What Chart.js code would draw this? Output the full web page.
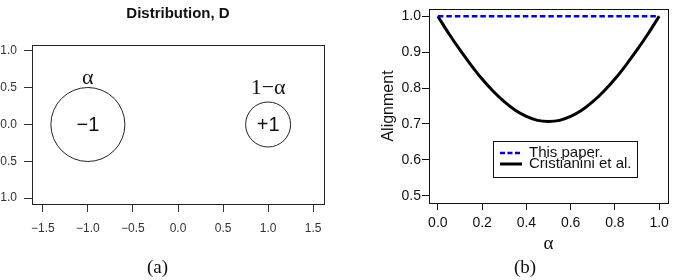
<!DOCTYPE html>
<html>
<head>
<meta charset="utf-8">
<script src="https://cdn.jsdelivr.net/npm/chart.js@4.4.1/dist/chart.umd.min.js"></script>
<style>
  html, body { margin: 0; padding: 0; background: #fff; }
  #wrap { position: relative; width: 674px; height: 280px; overflow: hidden; }
  canvas { position: absolute; top: 0; }
  #chartA { left: 0; }
  #chartB { left: 340px; }
</style>
</head>
<body>
<div id="wrap">
  <canvas id="chartA" width="340" height="280"></canvas>
  <canvas id="chartB" width="334" height="280"></canvas>
</div>
<script>
// Panel (a): the two classes of distribution D
const classX = [-1, 1];
const classY = [0, 0];
const classNames = ['−1', '+1'];
const classWeights = ['α', '1−α'];
const distXTicks = [-1.5, -1.0, -0.5, 0.0, 0.5, 1.0, 1.5];
const distYTicks = [-1.0, -0.5, 0.0, 0.5, 1.0];

// Panel (b): alignment against alpha
const alphaValues = [0, 0.05, 0.1, 0.15, 0.2, 0.25, 0.3, 0.35, 0.4, 0.45, 0.5,
                     0.55, 0.6, 0.65, 0.7, 0.75, 0.8, 0.85, 0.9, 0.95, 1];
const thisPaper = [1, 1, 1, 1, 1, 1, 1, 1, 1, 1, 1,
                   1, 1, 1, 1, 1, 1, 1, 1, 1, 1];
const cristianini = [1.000, 0.951, 0.906, 0.864, 0.825, 0.791, 0.762, 0.738, 0.721, 0.710, 0.707,
                     0.710, 0.721, 0.738, 0.762, 0.791, 0.825, 0.864, 0.906, 0.951, 1.000];
const alignXTicks = [0, 0.2, 0.4, 0.6, 0.8, 1.0];
const alignYTicks = [0.5, 0.6, 0.7, 0.8, 0.9, 1.0];

const SANS = '"Liberation Sans", Arial, sans-serif';
const SERIF = '"Liberation Serif", "Times New Roman", serif';

function fmt(v) {
    return v.toFixed(1).replace('-', '−');
}

// R-like axis: ticks outside, no grid inside, fixed size
function rAxis(ticks, min, max, fontSize, tickLen, pad, color, size) {
    return {
        type: 'linear',
        min: min,
        max: max,
        afterBuildTicks: scale => { scale.ticks = ticks.map(v => ({ value: v })); },
        afterFit: scale => {
            if (scale.isHorizontal()) scale.height = size;
            else scale.width = size;
            // no extra room for overhanging labels
            scale.paddingLeft = 0;
            scale.paddingRight = 0;
            scale.paddingTop = 0;
            scale.paddingBottom = 0;
        },
        ticks: {
            callback: v => fmt(v),
            font: { family: SANS, size: fontSize },
            color: color,
            padding: pad,
            autoSkip: false,
            maxRotation: 0,
            minRotation: 0
        },
        grid: {
            display: true,
            drawOnChartArea: false,
            drawTicks: true,
            tickLength: tickLen,
            tickColor: color,
            color: color
        },
        border: { display: true, color: color, width: 1 }
    };
}

// Frame and texts for panel (a)
const distLabels = {
    id: 'distLabels',
    afterDraw(chart) {
        const { ctx, chartArea: a, scales: { x, y } } = chart;
        ctx.save();
        ctx.strokeStyle = '#222';
        ctx.lineWidth = 1;
        ctx.strokeRect(a.left + 0.5, a.top + 0.5, a.right - a.left, a.bottom - a.top);
        ctx.fillStyle = '#111';
        ctx.textAlign = 'center';
        ctx.textBaseline = 'middle';
        ctx.font = 'bold 15px ' + SANS;
        ctx.fillText('Distribution, D', (a.left + a.right) / 2, 14);
        // class labels inside the circles
        ctx.font = '20px ' + SANS;
        classNames.forEach((name, i) => {
            ctx.fillText(name, x.getPixelForValue(classX[i]), y.getPixelForValue(classY[i]) + 1);
        });
        // class weights above the circles
        const weightY = [0.63, 0.49];
        ctx.font = '22px ' + SERIF;
        classWeights.forEach((w, i) => {
            ctx.fillText(w, x.getPixelForValue(classX[i]), y.getPixelForValue(weightY[i]));
        });
        ctx.font = '19px ' + SERIF;
        ctx.fillText('(a)', 157.5, 268);
        ctx.restore();
    }
};

// Frame, legend and caption for panel (b)
const alignExtras = {
    id: 'alignExtras',
    afterDraw(chart) {
        const { ctx, chartArea: a } = chart;
        ctx.save();
        ctx.strokeStyle = '#111';
        ctx.lineWidth = 1;
        ctx.strokeRect(a.left + 0.5, a.top + 0.5, a.right - a.left, a.bottom - a.top);

        // legend box
        const lx = 153, ly = 141, lw = 144, lh = 36;
        ctx.strokeRect(lx + 0.5, ly + 0.5, lw, lh);
        ctx.font = '15px ' + SANS;
        ctx.textAlign = 'left';
        ctx.textBaseline = 'alphabetic';
        ctx.fillStyle = '#111';
        chart.data.datasets.forEach((ds, i) => {
            const rowY = ly + 12 + i * 11;
            ctx.beginPath();
            ctx.strokeStyle = ds.borderColor;
            ctx.lineWidth = ds.borderWidth;
            ctx.setLineDash(ds.borderDash ? [5, 2.5] : []);
            ctx.moveTo(lx + 7, rowY);
            ctx.lineTo(lx + 29, rowY);
            ctx.stroke();
            ctx.setLineDash([]);
            ctx.fillText(ds.label, lx + 36, rowY + 3.5);
        });

        ctx.textAlign = 'center';
        ctx.textBaseline = 'middle';
        ctx.font = '19px ' + SERIF;
        ctx.fillText('(b)', 185, 268);
        ctx.restore();
    }
};

// Panel (a) chart
new Chart(document.getElementById('chartA'), {
    type: 'scatter',
    data: {
        datasets: [{
            label: 'classes',
            data: classX.map((v, i) => ({ x: v, y: classY[i] })),
            pointRadius: [37, 22.5],
            pointHoverRadius: [37, 22.5],
            pointBorderWidth: 1,
            pointBorderColor: '#222',
            pointBackgroundColor: 'rgba(0,0,0,0)'
        }]
    },
    options: {
        responsive: false,
        animation: false,
        devicePixelRatio: 1,
        layout: { autoPadding: false, padding: { left: 0, right: 16, top: 45, bottom: 0 } },
        scales: {
            x: rAxis(distXTicks, -1.62, 1.62, 12, 8, 9, '#333', 76),
            y: rAxis(distYTicks, -1.08, 1.08, 12, 8, 7, '#333', 32)
        },
        plugins: { legend: { display: false }, tooltip: { enabled: false } }
    },
    plugins: [distLabels]
});

// Panel (b) chart
const xB = rAxis(alignXTicks, -0.04, 1.04, 14, 7, 5, '#111', 77);
xB.title = {
    display: true,
    text: 'α',
    color: '#111',
    font: { family: SERIF, size: 19 },
    padding: { top: 0, bottom: 25 }
};
const yB = rAxis(alignYTicks, 0.48, 1.02, 14, 7, 1, '#111', 89);
yB.title = {
    display: true,
    text: 'Alignment',
    color: '#111',
    font: { family: SANS, size: 16 },
    padding: { top: 39, bottom: 0 }
};

new Chart(document.getElementById('chartB'), {
    type: 'line',
    data: {
        datasets: [{
            label: 'This paper.',
            data: alphaValues.map((a, i) => ({ x: a, y: thisPaper[i] })),
            borderColor: '#0000dd',
            borderWidth: 2.5,
            borderDash: [5.5, 3],
            pointRadius: 0,
            fill: false
        }, {
            label: 'Cristianini et al.',
            data: alphaValues.map((a, i) => ({ x: a, y: cristianini[i] })),
            borderColor: '#000',
            borderWidth: 3,
            pointRadius: 0,
            cubicInterpolationMode: 'monotone',
            fill: false
        }]
    },
    options: {
        responsive: false,
        animation: false,
        devicePixelRatio: 1,
        layout: { autoPadding: false, padding: { left: 0, right: 6, top: 9, bottom: 0 } },
        scales: { x: xB, y: yB },
        plugins: { legend: { display: false }, tooltip: { enabled: false } }
    },
    plugins: [alignExtras]
});
</script>
</body>
</html>
